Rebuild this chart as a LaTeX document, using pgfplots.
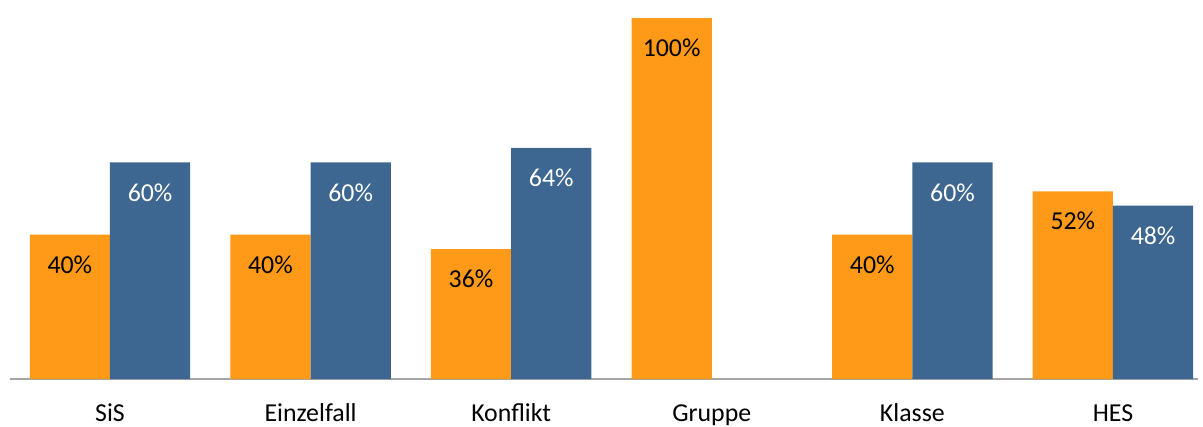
\documentclass[border=0pt]{standalone}
\usepackage{pgfplots}
\pgfplotsset{compat=1.18}
\usepackage{fontspec}
\setmainfont{Carlito}
\definecolor{cOrange}{HTML}{FF9A18}
\definecolor{cBlue}{HTML}{3D6790}
\definecolor{cAxis}{HTML}{A6A6A6}
\begin{document}
\begin{tikzpicture}
\begin{axis}[
  at={(0,0)}, anchor=south west,
  scale only axis,
  width=712.8pt, height=216.6pt,
  xmin=-0.4985, xmax=5.424,
  ymin=0, ymax=100,
  ybar=0pt, bar width=0.4,
  axis x line*=bottom, axis y line=none,
  x axis line style={-, draw=cAxis, line width=1.1pt},
  xtick={0,1,2,3,4,5},
  xticklabels={SiS,Einzelfall,Konflikt,Gruppe,Klasse,HES},
  xtick style={draw=none},
  ytick=\empty,
  xticklabel style={anchor=base, yshift=-21.2pt, font=\fontsize{15.5pt}{18pt}\selectfont},
  clip=false,
  nodes near coords={\pgfmathprintnumber[assume math mode=true]{\pgfplotspointmeta}\%},
  every node near coord/.append style={anchor=center, yshift=-18pt, font=\fontsize{15.5pt}{18pt}\selectfont},
]
\addplot[draw=none, fill=cOrange, every node near coord/.append style={text=black}] coordinates {(0,40) (1,40) (2,36) (3,100) (4,40) (5,52)};
\addplot[draw=none, fill=cBlue, every node near coord/.append style={text=white}] coordinates {(0,60) (1,60) (2,64) (4,60) (5,48)};
\end{axis}
\pgfresetboundingbox
\path[use as bounding box] (-6pt,-28.2pt) rectangle (715.8pt,227.4pt);
\end{tikzpicture}
\end{document}
